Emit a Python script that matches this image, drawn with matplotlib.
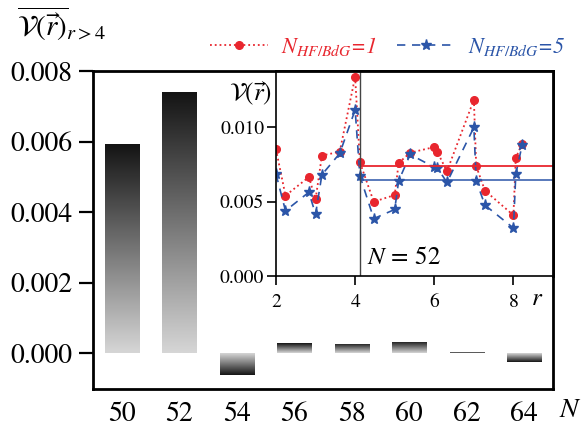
import numpy as np
import matplotlib
matplotlib.use("Agg")
import matplotlib.pyplot as plt
from matplotlib.colors import LinearSegmentedColormap
from matplotlib.lines import Line2D

plt.rcParams["font.family"] = "serif"
plt.rcParams["font.serif"] = ["STIXGeneral", "Liberation Serif", "DejaVu Serif"]
plt.rcParams["mathtext.fontset"] = "stix"

# ── data ─────────────────────────────────────────────────────────────────────
n_labels = ["50", "52", "54", "56", "58", "60", "62", "64"]
v_mean = [0.00592, 0.00740, -0.00062, 0.00028, 0.00027, 0.00032, 0.00002, -0.00024]

r_vals = [2.0, 2.24, 2.83, 3.0, 3.16, 3.61, 4.0, 4.12, 4.47, 5.0, 5.10,
          5.39, 6.0, 6.08, 6.32, 7.0, 7.06, 7.28, 8.0, 8.06, 8.22]
v_hf1 = [0.00852, 0.00541, 0.00666, 0.00516, 0.00811, 0.00836, 0.01341,
         0.00766, 0.00500, 0.00545, 0.00761, 0.00830, 0.00868, 0.00834,
         0.00705, 0.01186, 0.00739, 0.00575, 0.00409, 0.00795, 0.00891]
v_hf5 = [0.00686, 0.00439, 0.00564, 0.00416, 0.00682, 0.00825, 0.01118,
         0.00675, 0.00386, 0.00448, 0.00641, 0.00818, 0.00732, 0.00727,
         0.00630, 0.01000, 0.00641, 0.00477, 0.00323, 0.00686, 0.00882]
r_cut = 4.12
mean_hf1 = 0.00743
mean_hf5 = 0.00646

RED = "#e8262e"
BLUE = "#2b55a8"

fig = plt.figure(figsize=(5.86, 4.32), dpi=100)
fig.patch.set_facecolor("white")

# ── main bar chart ───────────────────────────────────────────────────────────
ax = fig.add_axes([93 / 586, 1 - 389 / 432, 460 / 586, 318 / 432])
x = np.arange(len(n_labels))
bars = ax.bar(x, v_mean, width=0.6, color="none", edgecolor="none")

grey = LinearSegmentedColormap.from_list("g", ["#d6d6d6", "#141414"])
grad = np.linspace(0, 1, 256).reshape(-1, 1)
for b in bars:
    x0, y0 = b.get_xy()
    w, h = b.get_width(), b.get_height()
    im = ax.imshow(grad, cmap=grey, aspect="auto", origin="lower",
                   extent=[x0, x0 + w, y0, y0 + h], zorder=2)
    im.set_clip_path(b)

ax.set_xlim(-0.5, 7.5)
ax.set_ylim(-0.00102, 0.008)
ax.set_xticks(x)
ax.set_xticklabels(n_labels)
ax.set_yticks([0, 0.002, 0.004, 0.006, 0.008])
ax.set_yticklabels(["0.000", "0.002", "0.004", "0.006", "0.008"])
ax.tick_params(axis="x", length=0, pad=9, labelsize=20)
ax.tick_params(axis="y", direction="out", length=10, width=1.6, pad=5, labelsize=20)
for s in ax.spines.values():
    s.set_linewidth(2.0)
ax.text(1.037, -0.066, r"$N$", transform=ax.transAxes, fontsize=20,
        ha="center", va="center")
fig.text(17 / 586, 1 - 24 / 432, r"$\overline{\mathcal{V}(\vec{r})}_{r>4}$",
         fontsize=21, ha="left", va="center")

# ── inset ────────────────────────────────────────────────────────────────────
ins = fig.add_axes([276 / 586, 1 - 276 / 432, 277 / 586, 205 / 432])
ins.plot(r_vals, v_hf1, linestyle=":", color=RED, lw=1.3, marker="o",
         ms=5.5, mec=RED, mfc=RED)
ins.plot(r_vals, v_hf5, linestyle=(0, (5, 4)), color=BLUE, lw=1.2,
         marker="*", ms=8, mec=BLUE, mfc=BLUE)
ins.plot([r_cut, 9], [mean_hf1, mean_hf1], color=RED, lw=1.3)
ins.plot([r_cut, 9], [mean_hf5, mean_hf5], color=BLUE, lw=1.1)
ins.axvline(r_cut, color="#444444", lw=1.0)
ins.set_xlim(2, 9)
ins.set_ylim(0, 0.0138)
ins.set_xticks([2, 4, 6, 8])
ins.set_yticks([0, 0.005, 0.010])
ins.set_yticklabels(["0.000", "0.005", "0.010"])
ins.tick_params(direction="out", length=6.5, width=1.2, labelsize=14)
ins.tick_params(axis="x", pad=6)
ins.tick_params(axis="y", pad=2)
ins.spines["left"].set_linewidth(1.2)
ins.spines["bottom"].set_linewidth(1.2)
ins.spines["top"].set_linewidth(2.0)
ins.spines["right"].set_linewidth(2.0)
ins.text(4.3, 0.0012, r"$N\,=\,52$", fontsize=18, ha="left", va="center")
ins.text(1.0 - 16 / 277, -23 / 205, r"$r$", transform=ins.transAxes,
         fontsize=18, ha="center", va="center")
ins.text(-4 / 277, 1 - 22 / 205, r"$\mathcal{V}(\vec{r})$", transform=ins.transAxes,
         fontsize=18, ha="right", va="center")

handles = [
    Line2D([0], [0], linestyle=":", color=RED, lw=1.3, marker="o", ms=5.5),
    Line2D([0], [0], linestyle=(0, (5, 4)), color=BLUE, lw=1.2, marker="*", ms=8),
]
labels = [r"$N_{HF/BdG}$=1", r"$N_{HF/BdG}$=5"]
leg = fig.legend(handles, labels, loc="center", bbox_to_anchor=(388 / 586, 1 - 46 / 432),
                 ncol=2, frameon=False, fontsize=16, handlelength=2.6,
                 handletextpad=0.6, columnspacing=0.9, numpoints=1)
for t, c in zip(leg.get_texts(), [RED, BLUE]):
    t.set_color(c)
    t.set_fontstyle("italic")

fig.savefig("out.png", dpi=100)
